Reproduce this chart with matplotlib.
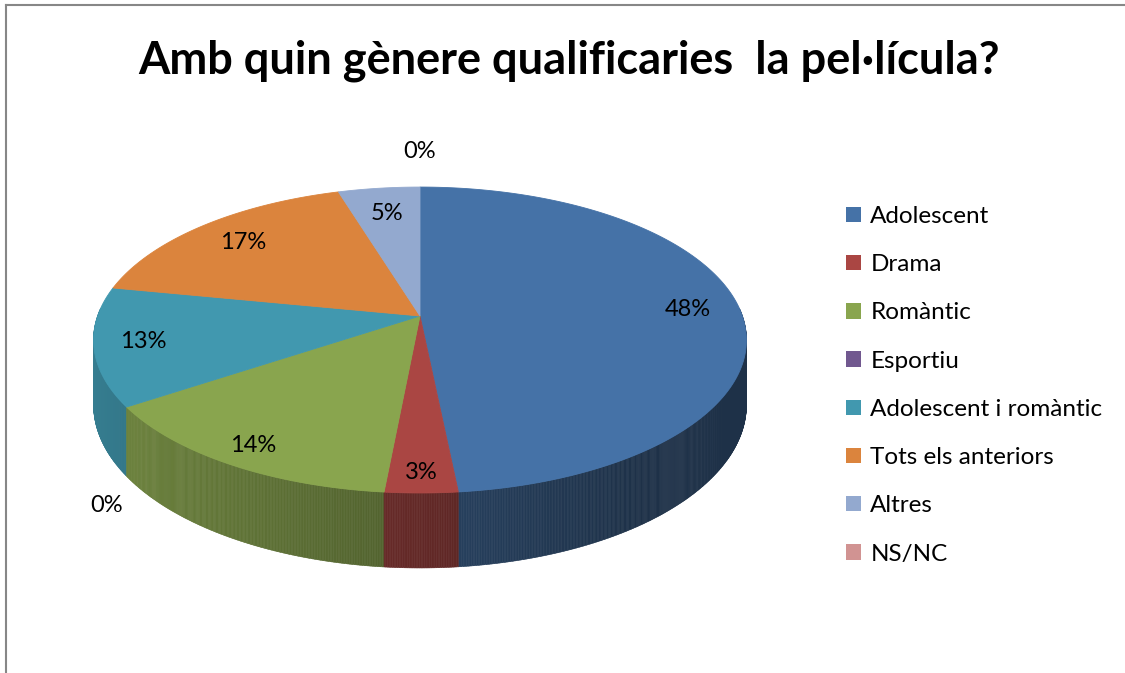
import numpy as np
import matplotlib
matplotlib.use("Agg")
import matplotlib.pyplot as plt
from matplotlib.collections import PolyCollection
from matplotlib.patches import Patch, Polygon
from matplotlib.lines import Line2D
from matplotlib.colors import to_rgb

# data (shares of answers, in %)
categories = ["Adolescent", "Drama", "Romàntic", "Esportiu",
              "Adolescent i romàntic", "Tots els anteriors", "Altres", "NS/NC"]
percent = [48.4, 3.1, 14.1, 0.0, 12.5, 17.2, 4.7, 0.0]
colors = ["#4572A7", "#AA4643", "#89A54E", "#71588F",
          "#4198AF", "#DB843D", "#93A9CF", "#D19392"]
title = "Amb quin gènere qualificaries  la pel·lícula?"

W, H = 1125, 673

# 3D pie geometry (pixels), simple perspective tilt
CX, CY = 420, 316
RX, RY = 322.4, 149.2
PERSP = 0.157
DEPTH = 63.2


def project(X, Y, z=0.0):
    w = 1 - PERSP * Y
    return CX + RX * X / w, CY + (RY * Y + DEPTH * z) / w


def rim(theta, r=1.0, z=0.0):
    # theta in degrees, clockwise from 12 o'clock
    t = np.radians(theta)
    return project(r * np.sin(t), -r * np.cos(t), z)


fig = plt.figure(figsize=(W / 100, H / 100), dpi=100)
ax = fig.add_axes([0, 0, 1, 1])
ax.set_xlim(0, W)
ax.set_ylim(H, 0)
ax.axis("off")

vals = np.array(percent)
edges = np.concatenate([[0], np.cumsum(vals)]) / vals.sum() * 360
starts, ends = edges[:-1], edges[1:]

# side wall, shaded darker to the right
quads, qcols, qkeys = [], [], []
for i, (a0, a1) in enumerate(zip(starts, ends)):
    if a1 - a0 <= 0:
        continue
    n = max(2, int((a1 - a0) / 0.25))
    th = np.linspace(a0, a1, n + 1)
    for ta, tb in zip(th[:-1], th[1:]):
        tm = np.radians(0.5 * (ta + tb))
        Ym = -np.cos(tm)
        if Ym < -0.05:
            continue
        f = max(0.43, 0.58 - 0.25 * np.sin(tm))
        quads.append([rim(ta), rim(tb), rim(tb, z=1), rim(ta, z=1)])
        c = np.array(to_rgb(colors[i])) * f
        qcols.append(c)
        qkeys.append(Ym)
order = np.argsort(qkeys)
side = PolyCollection([quads[k] for k in order],
                      facecolors=[qcols[k] for k in order],
                      edgecolors=[qcols[k] for k in order], linewidths=0.4)
ax.add_collection(side)

# top faces
for i, (a0, a1) in enumerate(zip(starts, ends)):
    if a1 - a0 <= 0:
        continue
    th = np.linspace(a0, a1, max(3, int((a1 - a0) / 0.5)))
    pts = [(CX, CY)] + [rim(t) for t in th]
    ax.add_patch(Polygon(pts, closed=True, facecolor=colors[i],
                         edgecolor=colors[i], linewidth=0.6))

# data labels
for i, (a0, a1) in enumerate(zip(starts, ends)):
    mid = 0.5 * (a0 + a1)
    txt = f"{int(percent[i] + 0.5)}%"
    t = np.radians(mid)
    if a1 - a0 > 0:
        x, y = rim(mid, 0.84 + 0.06 * (-np.cos(t)))
    else:
        z = 1.0 if -np.cos(t) > 0 else 0.0
        ex, ey = rim(mid, 1.0, z)
        nx, ny = np.sin(t) / RX, -np.cos(t) / RY
        nn = np.hypot(nx, ny)
        x, y = ex + 36 * nx / nn, ey + 36 * ny / nn
    ax.text(x, y, txt, ha="center", va="center", fontsize=17,
            family="Lato", color="black")

ax.text(569, 73, title, ha="center", va="baseline", fontsize=32.5,
        family="Lato", fontweight="bold")

handles = [Patch(facecolor=c, edgecolor="none") for c in colors]
ax.legend(handles, categories, loc="upper left",
          bbox_to_anchor=(846 / W, 1 - 206 / H), frameon=False,
          prop={"family": "Lato", "size": 17.5},
          handlelength=0.6, handleheight=0.6, handletextpad=0.4,
          labelspacing=1.12, borderpad=0, borderaxespad=0)

# chart frame (only top and left edges are in view)
ax.add_line(Line2D([6, 6], [5, H], color="#878787", lw=1.5))
ax.add_line(Line2D([6, W], [5, 5], color="#878787", lw=1.5))

fig.savefig("out.png", dpi=100)
